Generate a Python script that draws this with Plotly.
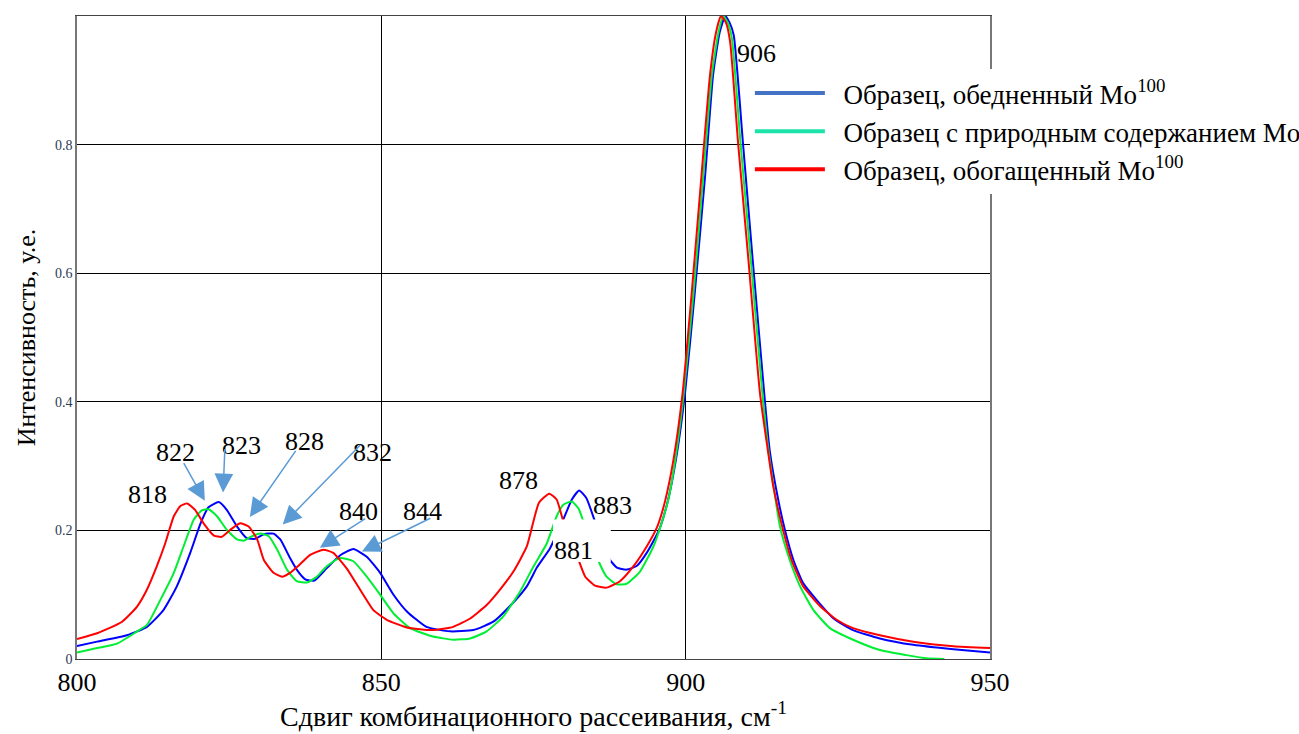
import plotly.graph_objects as go

# ---------------- data ----------------
blue_x = [800, 803.3, 808.2, 811.5, 814.2, 816.4, 818.6, 820.3, 821.6, 823.3, 824.6, 826.3,
          827.9, 829.3, 830.7, 832.3, 833.4, 835.0, 836.1, 837.5, 839.0, 841.0, 843.2, 845.4,
          847.6, 849.8, 852.0, 854.2, 857.4, 861.3, 865.1, 868.4, 871.1, 873.9, 875.6, 877.7,
          879.9, 881.3, 882.5, 883.7, 885.1, 887.6, 888.7, 890.3, 892.0, 893.6, 895.6, 897.0,
          898.4, 899.9, 901.5, 903.2, 904.5, 905.6, 906.5, 907.2, 907.9, 909.4, 911.0, 912.9,
          913.8, 915.2, 916.3, 917.7, 919.3, 921.5, 924.3, 927.5, 931.9, 937.4, 944.0, 950.0]
blue_y = [0.020, 0.027, 0.037, 0.050, 0.076, 0.113, 0.165, 0.211, 0.236, 0.244, 0.232, 0.206,
          0.188, 0.187, 0.194, 0.195, 0.186, 0.157, 0.139, 0.124, 0.122, 0.141, 0.161, 0.171,
          0.159, 0.134, 0.100, 0.074, 0.050, 0.043, 0.045, 0.058, 0.082, 0.113, 0.143, 0.172,
          0.217, 0.248, 0.262, 0.250, 0.214, 0.154, 0.142, 0.139, 0.145, 0.165, 0.200, 0.243,
          0.310, 0.414, 0.570, 0.752, 0.908, 0.975, 1.000, 0.990, 0.970, 0.804, 0.622, 0.414,
          0.325, 0.248, 0.201, 0.154, 0.118, 0.092, 0.063, 0.045, 0.032, 0.022, 0.015, 0.010]

green_x = [800, 803.3, 806.6, 809.9, 811.5, 813.7, 815.9, 817.5, 819.2, 820.5, 821.6, 823.0,
           824.6, 826.3, 827.4, 828.5, 830.1, 831.5, 832.9, 834.5, 836.1, 837.8, 839.4, 841.0,
           843.2, 845.4, 847.6, 849.8, 852.0, 854.7, 858.5, 861.8, 864.6, 867.3, 870.0, 872.8,
           875.0, 877.2, 878.8, 879.9, 881.3, 882.4, 883.2, 885.6, 887.0, 888.7, 890.3, 892.5,
           894.7, 896.0, 897.2, 898.3, 899.7, 901.3, 902.9, 904.3, 905.4, 906.2, 906.9, 907.6,
           909.0, 910.7, 912.6, 913.6, 915.5, 917.1, 918.8, 921.0, 923.7, 927.5, 931.9, 936.3,
           939.6, 942.5]
green_y = [0.010, 0.017, 0.024, 0.043, 0.053, 0.092, 0.134, 0.175, 0.217, 0.231, 0.233, 0.222,
           0.201, 0.186, 0.184, 0.190, 0.195, 0.191, 0.170, 0.139, 0.121, 0.119, 0.128, 0.144,
           0.157, 0.152, 0.128, 0.100, 0.071, 0.048, 0.035, 0.030, 0.032, 0.043, 0.066, 0.105,
           0.144, 0.180, 0.222, 0.240, 0.245, 0.234, 0.214, 0.154, 0.128, 0.116, 0.117, 0.136,
           0.175, 0.210, 0.250, 0.310, 0.414, 0.570, 0.752, 0.908, 0.975, 1.000, 0.990, 0.965,
           0.804, 0.622, 0.414, 0.325, 0.206, 0.154, 0.113, 0.076, 0.048, 0.030, 0.014, 0.006,
           0.001, 0.000]

red_x = [800, 803.3, 807.4, 809.9, 811.5, 813.1, 814.5, 815.9, 817.0, 818.1, 819.4, 820.8,
         822.5, 823.8, 825.2, 826.8, 828.2, 829.6, 830.7, 832.3, 833.7, 835.0, 836.6, 838.3,
         840.5, 842.1, 844.3, 846.5, 848.7, 850.9, 854.2, 858.5, 861.8, 864.6, 867.3, 869.5,
         871.7, 873.9, 875.9, 877.6, 878.8, 879.9, 882.4, 883.5, 885.1, 887.0, 889.2, 891.4,
         893.6, 895.3, 896.6, 898.0, 899.5, 901.0, 902.6, 904.0, 905.0, 905.8, 906.6, 907.3,
         908.6, 910.3, 912.2, 913.6, 914.4, 916.0, 917.4, 919.3, 922.1, 924.8, 927.5, 931.9,
         937.4, 944.0, 950.0]
red_y = [0.031, 0.040, 0.058, 0.082, 0.108, 0.144, 0.180, 0.222, 0.238, 0.242, 0.232, 0.211,
         0.192, 0.190, 0.201, 0.211, 0.206, 0.186, 0.154, 0.134, 0.128, 0.134, 0.147, 0.162,
         0.170, 0.165, 0.141, 0.108, 0.076, 0.061, 0.049, 0.045, 0.050, 0.063, 0.084, 0.108,
         0.136, 0.175, 0.243, 0.257, 0.248, 0.214, 0.154, 0.128, 0.114, 0.111, 0.121, 0.144,
         0.175, 0.205, 0.245, 0.310, 0.414, 0.570, 0.752, 0.908, 0.975, 1.000, 0.990, 0.960,
         0.804, 0.622, 0.414, 0.318, 0.268, 0.201, 0.154, 0.113, 0.082, 0.061, 0.048, 0.037,
         0.027, 0.020, 0.017]

series_names = ["Образец, обедненный Mo<sup>100</sup>",
                "Образец с природным содержанием Mo",
                "Образец, обогащенный Mo<sup>100</sup>"]
curve_colors = ["#0000ff", "#00ee33", "#ff0000"]
legend_colors = ["#4472c4", "#1de2aa", "#ff0000"]

x_ticks = [800, 850, 900, 950]
y_ticks = [0, 0.2, 0.4, 0.6, 0.8]
y_ticktext = ["0", "0.2", "0.4", "0.6", "0.8"]

# peak labels: text, label position (x, y)
peak_labels = ["818", "822", "823", "828", "832", "840", "844", "878", "881", "883", "906"]
label_x = [811.5, 816.1, 827.1, 837.3, 848.6, 846.2, 856.7, 872.5, 881.6, 887.9, 911.6]
label_y = [0.256, 0.321, 0.332, 0.338, 0.321, 0.229, 0.229, 0.277, 0.168, 0.239, 0.942]

# arrows: tail (x, y) -> head (x, y)
arrow_tail_x = [817.4, 824.3, 836.1, 846.8, 847.6, 858.3]
arrow_tail_y = [0.307, 0.329, 0.326, 0.335, 0.220, 0.220]
arrow_head_x = [821.0, 824.0, 828.4, 833.8, 839.9, 846.8]
arrow_head_y = [0.246, 0.259, 0.221, 0.209, 0.173, 0.167]

FONT = "Liberation Serif, Times New Roman, serif"

fig = go.Figure()
for xs, ys, col in zip([blue_x, green_x, red_x], [blue_y, green_y, red_y], curve_colors):
    fig.add_trace(go.Scatter(x=xs, y=ys, mode="lines", showlegend=False,
                             line=dict(color=col, width=2, shape="spline", smoothing=0.5),
                             hoverinfo="x+y"))
for i, (name, col) in enumerate(zip(series_names, legend_colors)):
    fig.add_trace(go.Scatter(x=[None], y=[None], mode="lines", name="\u00a0\u00a0" + name,
                             legendgroup=str(i), line=dict(color=col, width=4)))

annotations = []
for t, lx, ly in zip(peak_labels, label_x, label_y):
    annotations.append(dict(x=lx, y=ly, xref="x", yref="y", text=t, showarrow=False,
                            font=dict(family=FONT, size=26, color="black")))
for tx, ty, hx, hy in zip(arrow_tail_x, arrow_tail_y, arrow_head_x, arrow_head_y):
    annotations.append(dict(x=hx, y=hy, ax=tx, ay=ty, xref="x", yref="y", axref="x", ayref="y",
                            text="", showarrow=True, arrowhead=2, arrowsize=2.5,
                            arrowwidth=1.5, arrowcolor="#5b9bd5"))

# white box behind the "881" label (as in the reference)
shapes = [dict(type="rect", xref="x", yref="y", x0=878.2, x1=887.7, y0=0.151, y1=0.217,
               fillcolor="white", line=dict(width=0), layer="above")]

fig.update_layout(
    width=1299, height=734,
    margin=dict(l=77, r=309, t=16, b=75, autoexpand=False),
    paper_bgcolor="white", plot_bgcolor="white",
    font=dict(family=FONT, color="black"),
    showlegend=True,
    legend=dict(x=0.737, y=0.9176, xanchor="left", yanchor="top",
                bgcolor="white", borderwidth=0,
                font=dict(family=FONT, size=27, color="black"),
                itemwidth=70, tracegroupgap=0),
    annotations=annotations,
    shapes=shapes,
    xaxis=dict(range=[800, 950], tickvals=x_ticks, showgrid=True, gridcolor="black",
               gridwidth=1, zeroline=False, showline=True, linecolor="#444", linewidth=1,
               mirror=True, ticks="", automargin=False,
               tickfont=dict(family=FONT, size=26, color="black"),
               title=dict(text="Сдвиг комбинационного рассеивания, см<sup>-1</sup>",
                          font=dict(family=FONT, size=28, color="black"), standoff=8)),
    yaxis=dict(range=[0, 1.0], tickvals=y_ticks, ticktext=y_ticktext, showgrid=True,
               gridcolor="black", gridwidth=1, zeroline=False, showline=True,
               linecolor="#777", linewidth=1.5, mirror=True, ticks="", automargin=False,
               tickfont=dict(family=FONT, size=14, color="#2b3a55"),
               title=dict(text="Интенсивность, у.е.",
                          font=dict(family=FONT, size=26, color="black"), standoff=12)),
)

fig.write_html("out.html")
